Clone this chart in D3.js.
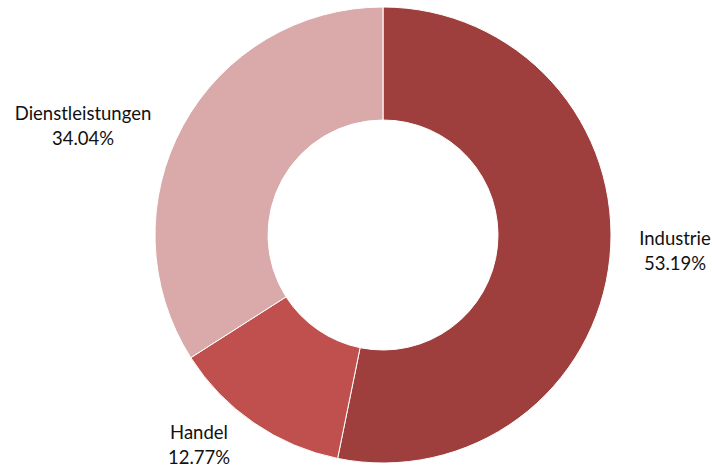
<!DOCTYPE html>
<html>
<head>
<meta charset="utf-8">
<script src="https://cdn.jsdelivr.net/npm/d3@7"></script>
<style>
  body { margin: 0; background: #fff; }
</style>
</head>
<body>
<div id="chart"></div>
<script>
const categories = ["Industrie", "Handel", "Dienstleistungen"];
const shares = [53.19, 12.77, 34.04];
const colors = ["#9E3F3D", "#C0504D", "#D9AAA9"];

// label anchor positions (centre of text block)
const labelPos = [[675, 240], [199, 434], [83, 115]];

const width = 712;
const height = 470;
const cx = 383;
const cy = 235;
const outerR = 228;
const innerR = 115;

const svg = d3.select("#chart")
    .append("svg")
    .attr("width", width)
    .attr("height", height);

const g = svg.append("g")
    .attr("transform", `translate(${cx},${cy})`);

const data = categories.map((c, i) => ({ name: c, value: shares[i], color: colors[i] }));

const pie = d3.pie()
    .sort(null)
    .value(d => d.value);

const arc = d3.arc()
    .innerRadius(innerR)
    .outerRadius(outerR);

g.selectAll("path")
    .data(pie(data))
    .enter()
    .append("path")
    .attr("d", arc)
    .attr("fill", d => d.data.color)
    .attr("stroke", "#fff")
    .attr("stroke-width", 1);

// Labels
const labels = svg.selectAll(".label")
    .data(data)
    .enter()
    .append("text")
    .attr("class", "label")
    .attr("text-anchor", "middle")
    .style("font-family", "Lato, 'Open Sans', sans-serif")
    .style("font-size", "18.5px")
    .attr("fill", "#111");

labels.append("tspan")
    .attr("x", (d, i) => labelPos[i][0])
    .attr("y", (d, i) => labelPos[i][1] + 5)
    .text(d => d.name);

labels.append("tspan")
    .attr("x", (d, i) => labelPos[i][0])
    .attr("y", (d, i) => labelPos[i][1] + 30)
    .text(d => d.value.toFixed(2) + "%");
</script>
</body>
</html>
